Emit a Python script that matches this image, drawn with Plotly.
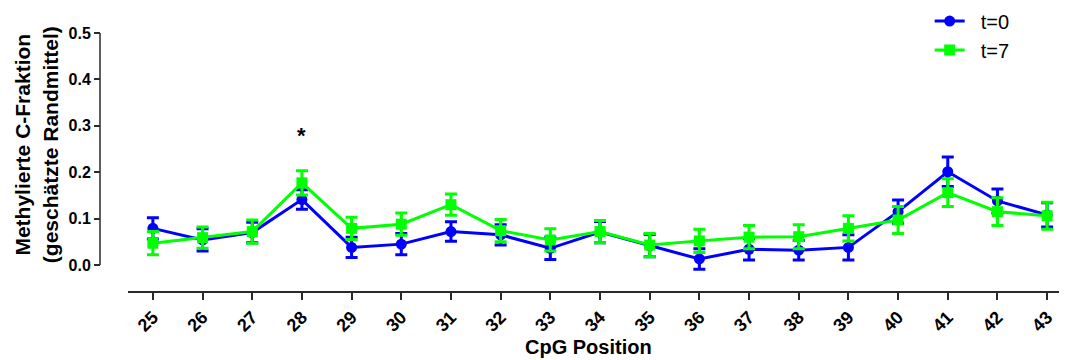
import plotly.graph_objects as go

positions = [25, 26, 27, 28, 29, 30, 31, 32, 33, 34, 35, 36, 37, 38, 39, 40, 41, 42, 43]
t0_vals = [0.079, 0.054, 0.070, 0.141, 0.038, 0.045, 0.072, 0.065, 0.036, 0.071,
           0.042, 0.013, 0.034, 0.032, 0.038, 0.115, 0.201, 0.138, 0.108]
t0_err = [0.023, 0.024, 0.022, 0.021, 0.022, 0.023, 0.021, 0.022, 0.024, 0.023,
          0.024, 0.022, 0.023, 0.021, 0.027, 0.025, 0.032, 0.026, 0.026]
t7_vals = [0.047, 0.059, 0.072, 0.177, 0.079, 0.088, 0.130, 0.074, 0.054, 0.072,
           0.043, 0.052, 0.060, 0.061, 0.079, 0.097, 0.156, 0.115, 0.106]
t7_err = [0.025, 0.023, 0.025, 0.026, 0.024, 0.024, 0.023, 0.024, 0.024, 0.024,
          0.025, 0.025, 0.025, 0.026, 0.027, 0.029, 0.030, 0.030, 0.029]
y_ticks = [0.0, 0.1, 0.2, 0.3, 0.4, 0.5]
y_ticklabels = ["0.0", "0.1", "0.2", "0.3", "0.4", "0.5"]
star_position = 28
star_y = 0.28

FONT = "Liberation Sans, Arial, sans-serif"
AX = "#2a2a2a"

fig = go.Figure()
fig.add_trace(go.Scatter(
    x=positions, y=t0_vals, name="\u00a0\u00a0t=0", mode="lines+markers",
    line=dict(color="#0000FF", width=3),
    marker=dict(symbol="circle", size=11, color="#0000FF"),
    error_y=dict(type="data", array=t0_err, color="#0000FF", thickness=3, width=6),
    cliponaxis=False,
))
fig.add_trace(go.Scatter(
    x=positions, y=t7_vals, name="\u00a0\u00a0t=7", mode="lines+markers",
    line=dict(color="#00FF00", width=3),
    marker=dict(symbol="square", size=11, color="#00FF00"),
    error_y=dict(type="data", array=t7_err, color="#00FF00", thickness=3, width=6),
    cliponaxis=False,
))

# page body has an 8px default margin -> figure is 8px smaller and offset
fig.update_layout(
    width=1059, height=352,
    margin=dict(l=92, r=0, t=25, b=69, autoexpand=False),
    paper_bgcolor="white", plot_bgcolor="white",
    font=dict(family=FONT, color="black"),
    showlegend=True,
    legend=dict(x=0.858, y=1.122, xanchor="left", yanchor="top",
                font=dict(size=20, family=FONT, color="black"),
                bgcolor="rgba(0,0,0,0)", tracegroupgap=0, itemwidth=30),
    xaxis=dict(
        domain=[0.029, 1], range=[24.5, 43.4],
        tickvals=positions, ticktext=[str(p) for p in positions],
        tickangle=-45, ticks="outside", ticklen=7, tickwidth=1.5, tickcolor=AX,
        showline=True, linecolor=AX, linewidth=1.5,
        showgrid=False, zeroline=False, automargin=False,
        tickfont=dict(size=18, family=FONT, color="black", weight="bold"),
    ),
    yaxis=dict(
        anchor="free", position=0,
        range=[-0.056, 0.5],
        tickvals=y_ticks, ticktext=y_ticklabels,
        ticks="outside", ticklen=6, tickwidth=1.5, tickcolor=AX,
        showline=False, showgrid=False, zeroline=False, automargin=False,
        tickfont=dict(size=16, family=FONT, color="black", weight="bold"),
    ),
    shapes=[dict(type="line", xref="paper", yref="y", x0=0, x1=0, y0=0, y1=0.5,
                 line=dict(color=AX, width=1.5))],
    annotations=[
        dict(text="<b>CpG Position</b>", xref="paper", yref="paper",
             x=0.5047, y=-0.217, showarrow=False, xanchor="center", yanchor="middle",
             font=dict(size=20, family=FONT, color="black")),
        dict(text="<b>Methylierte C-Fraktion<br>(geschätzte Randmittel)</b>",
             xref="paper", yref="paper", x=-0.066, y=0.566, textangle=-90,
             showarrow=False, xanchor="center", yanchor="middle",
             font=dict(size=21, family=FONT, color="black")),
        dict(text="<b>*</b>", xref="x", yref="y", x=star_position, y=star_y,
             showarrow=False, xanchor="center", yanchor="middle",
             font=dict(size=22, family=FONT, color="black")),
    ],
)

fig.write_html("out.html")
